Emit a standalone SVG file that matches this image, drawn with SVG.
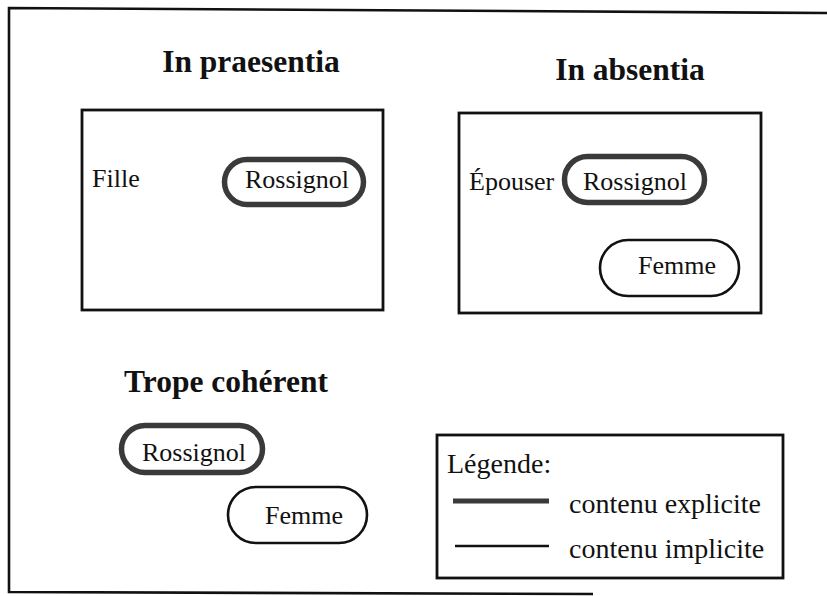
<svg xmlns="http://www.w3.org/2000/svg" width="827" height="596" viewBox="0 0 827 596">
<style>
text{font-family:"Liberation Serif","Times New Roman",serif;fill:#111}
.title{font-size:31.5px;font-weight:bold}
.lbl{font-size:26px}
.leg{font-size:28px}
.box{fill:none;stroke:#111;stroke-width:2.8}
.exp{fill:#fff;stroke:#3a3a3a;stroke-width:5.5}
.imp{fill:#fff;stroke:#111;stroke-width:2.6}
.frame{fill:none;stroke:#111;stroke-width:2.6}
</style>
<rect width="827" height="596" fill="#fff"/>
<g id="frame">
<polyline class="frame" points="827,13 9,8 9,592 593,594"/>
</g>
<g id="praesentia">
<text class="title" x="251" y="72" text-anchor="middle">In praesentia</text>
<rect class="box" x="82" y="110" width="301" height="200"/>
<text class="lbl" x="92" y="187">Fille</text>
</g>
<g id="rossignol-praesentia">
<rect class="exp" x="224.5" y="159.5" width="139" height="45" rx="22.5"/>
<text class="lbl" x="297" y="188" text-anchor="middle">Rossignol</text>
</g>
<g id="absentia">
<text class="title" x="630" y="80" text-anchor="middle">In absentia</text>
<rect class="box" x="459" y="113" width="302" height="200"/>
<text class="lbl" x="469" y="190">Épouser</text>
</g>
<g id="rossignol-absentia">
<rect class="exp" x="564.5" y="156.5" width="140" height="46" rx="23"/>
<text class="lbl" x="635" y="190" text-anchor="middle">Rossignol</text>
</g>
<g id="femme-absentia">
<rect class="imp" x="600" y="240" width="139" height="56" rx="28"/>
<text class="lbl" x="677" y="274" text-anchor="middle">Femme</text>
</g>
<g id="trope">
<text class="title" x="226" y="392" text-anchor="middle">Trope cohérent</text>
</g>
<g id="rossignol-trope">
<rect class="exp" x="121.5" y="425.5" width="141" height="47" rx="23.5"/>
<text class="lbl" x="194" y="461" text-anchor="middle">Rossignol</text>
</g>
<g id="femme-trope">
<rect class="imp" x="228" y="487" width="139" height="56" rx="28"/>
<text class="lbl" x="304" y="524" text-anchor="middle">Femme</text>
</g>
<g id="legend">
<rect class="box" x="437" y="435" width="346" height="143"/>
<text class="leg" x="447" y="473">Légende:</text>
<line x1="453" y1="501" x2="549" y2="501" stroke="#3a3a3a" stroke-width="5"/>
<text class="leg" x="569" y="513">contenu explicite</text>
<line x1="455" y1="546" x2="549" y2="546" stroke="#111" stroke-width="2.6"/>
<text class="leg" x="569" y="558">contenu implicite</text>
</g>
<g id="connectors"></g>
</svg>
